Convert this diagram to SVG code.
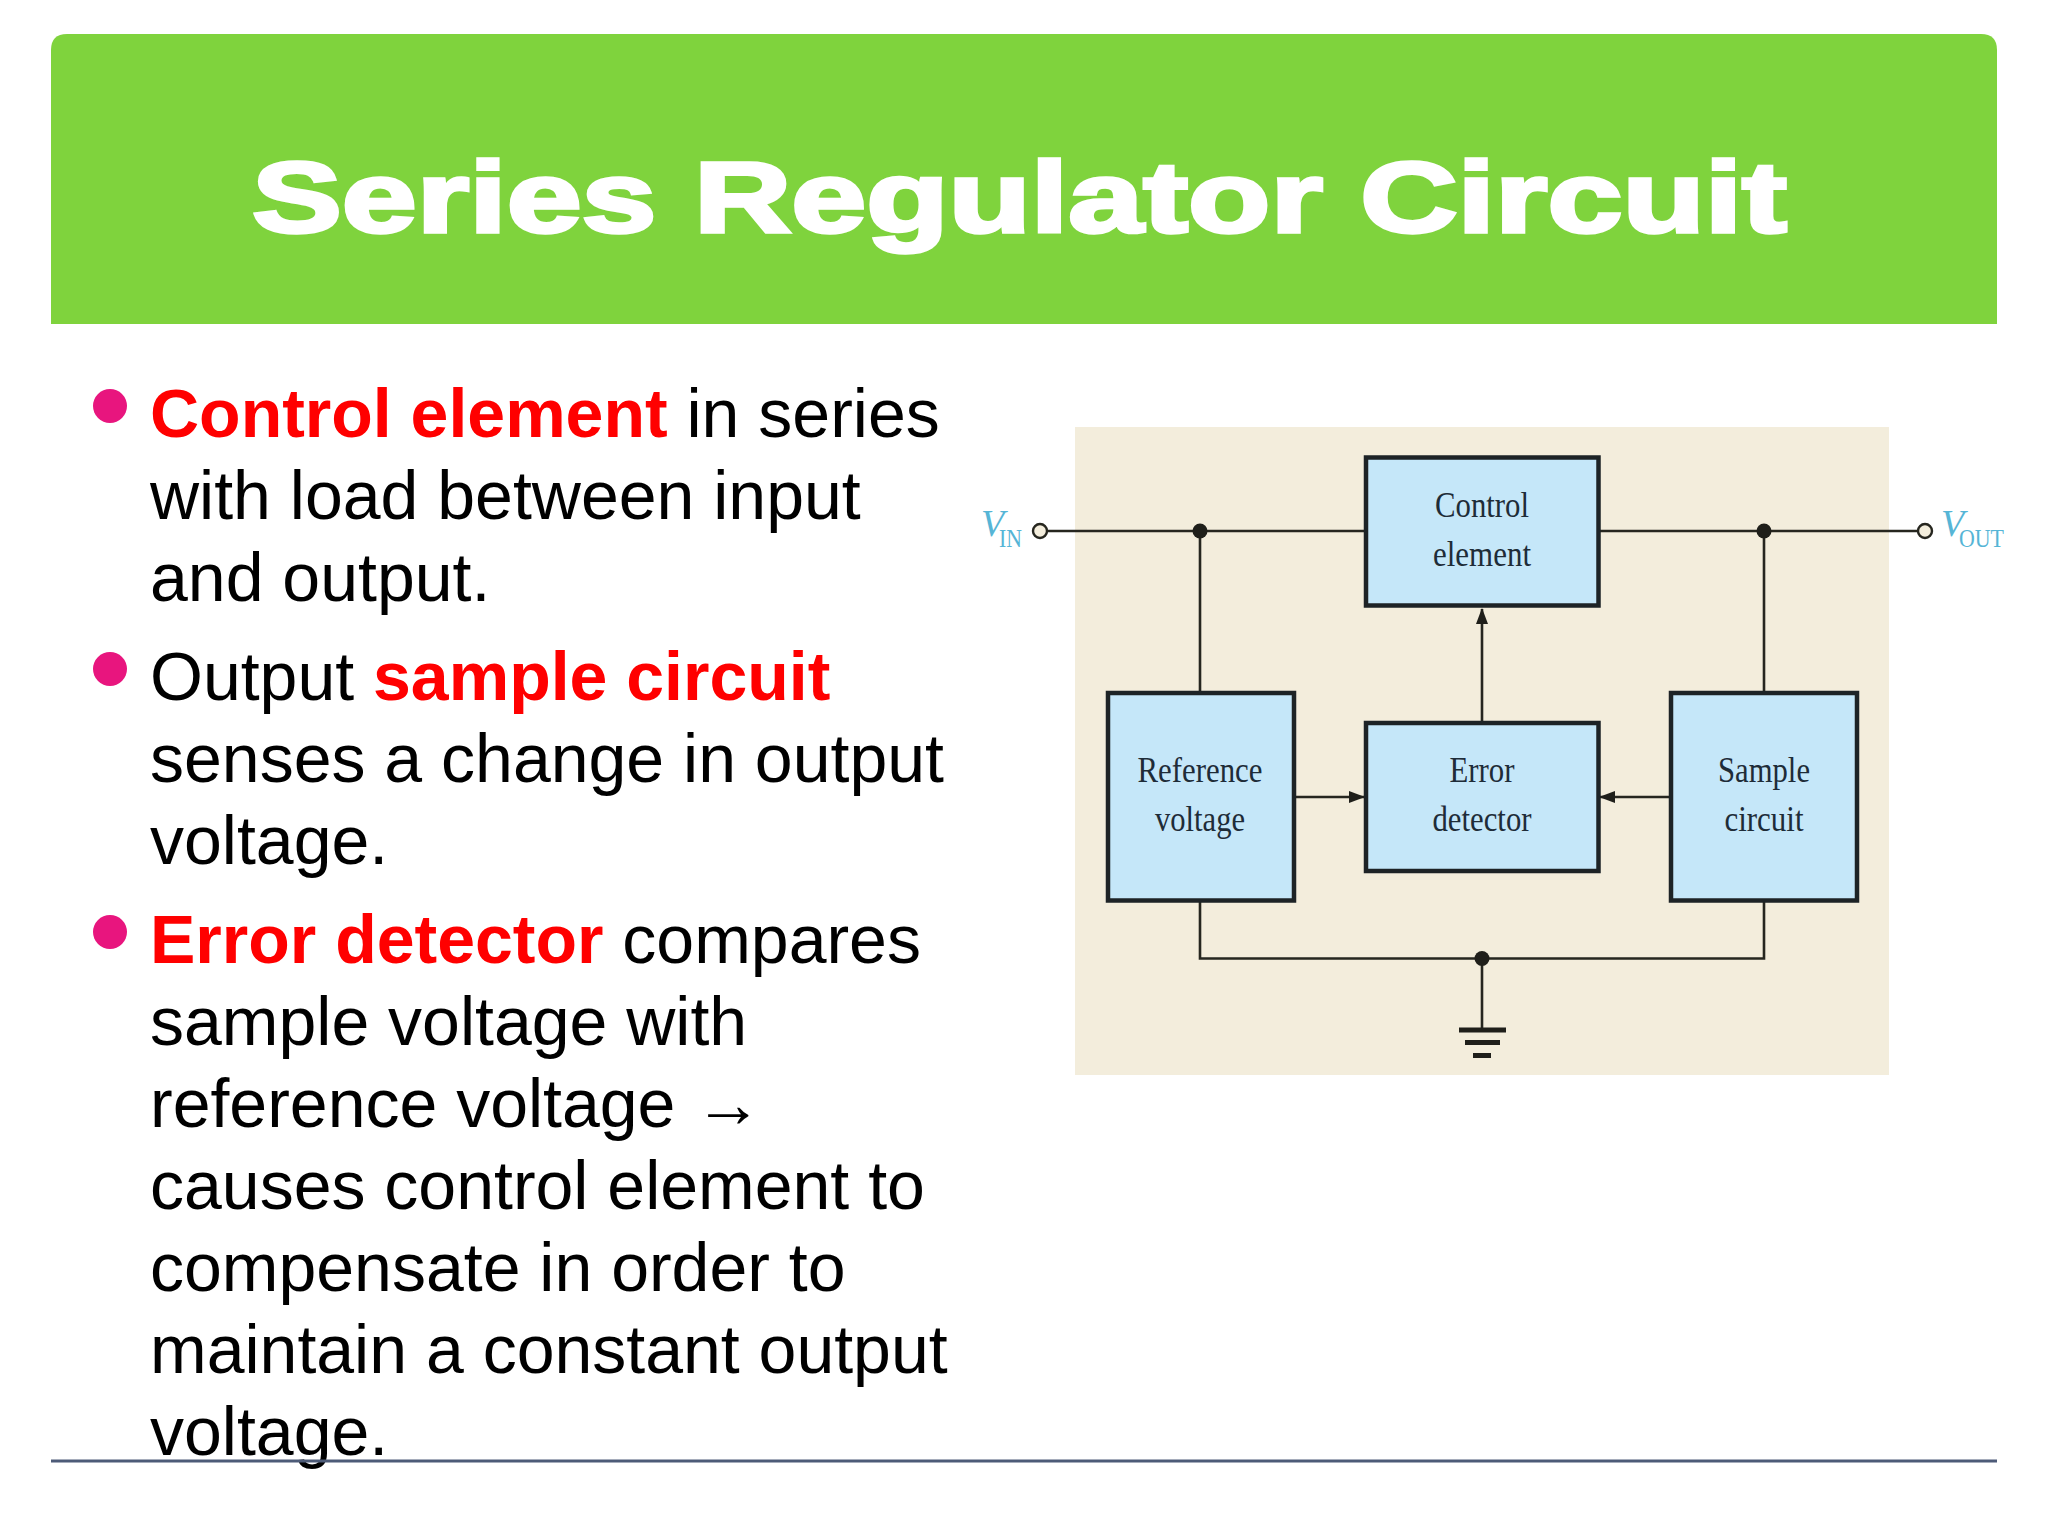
<svg xmlns="http://www.w3.org/2000/svg" width="2048" height="1536" viewBox="0 0 2048 1536">
<style>
.body{font-family:"Liberation Sans",Arial,sans-serif;font-size:68px;fill:#000}
.hot{font-weight:700;fill:#ff0000}
.bullet{fill:#e8157e}
.box{fill:#c5e7f9;stroke:#1d2326;stroke-width:4.5}
.lbl{font-family:"Liberation Serif","Times New Roman",serif;font-size:36px;fill:#1e2c38}
.wire{fill:none;stroke:#26261f;stroke-width:2.6}
.dot{fill:#1f1f1a}
.term{fill:#f4eedd;stroke:#26261f;stroke-width:2.4}
.v{font-family:"Liberation Serif","Times New Roman",serif;font-style:italic;font-size:38px;fill:#56b5d6}
.sub{font-family:"Liberation Serif","Times New Roman",serif;font-size:26px;fill:#56b5d6}
</style>
<defs>
<marker id="ah" markerWidth="16" markerHeight="16" refX="15" refY="6" orient="auto" markerUnits="userSpaceOnUse"><path d="M0 0L16 6L0 12Z" fill="#1f1f1a"/></marker>
</defs>
<rect width="2048" height="1536" fill="#fff"/>
<g id="header">
<path d="M51 324V50Q51 34 67 34H1981Q1997 34 1997 50V324Z" fill="#7fd33d"/>
<text x="252" y="232" font-family="'Liberation Sans',Arial,sans-serif" font-weight="700" font-size="100" fill="#fff" stroke="#fff" stroke-width="3.5" textLength="1535" lengthAdjust="spacingAndGlyphs">Series Regulator Circuit</text>
</g>
<g id="bullets">
<circle class="bullet" cx="110" cy="406" r="17"/>
<circle class="bullet" cx="110" cy="669" r="17"/>
<circle class="bullet" cx="110" cy="932" r="17"/>
<text class="body" x="150" y="437"><tspan class="hot">Control element</tspan> in series</text>
<text class="body" x="150" y="519">with load between input</text>
<text class="body" x="150" y="601">and output.</text>
<text class="body" x="150" y="700">Output <tspan class="hot">sample circuit</tspan></text>
<text class="body" x="150" y="782">senses a change in output</text>
<text class="body" x="150" y="864">voltage.</text>
<text class="body" x="150" y="963"><tspan class="hot">Error detector</tspan> compares</text>
<text class="body" x="150" y="1045">sample voltage with</text>
<text class="body" x="150" y="1127">reference voltage →</text>
<text class="body" x="150" y="1209">causes control element to</text>
<text class="body" x="150" y="1291">compensate in order to</text>
<text class="body" x="150" y="1373">maintain a constant output</text>
<text class="body" x="150" y="1455">voltage.</text>
</g>
<line id="footer-rule" x1="51" y1="1461" x2="1997" y2="1461" stroke="#4d5b78" stroke-width="3"/>
<rect id="panel" x="1075" y="427" width="814" height="648" fill="#f3eddc"/>
<g id="connectors">
<line class="wire" x1="1047" y1="531" x2="1365" y2="531"/>
<line class="wire" x1="1599" y1="531" x2="1918" y2="531"/>
<line class="wire" x1="1200" y1="531" x2="1200" y2="693"/>
<line class="wire" x1="1764" y1="531" x2="1764" y2="693"/>
<path class="wire" d="M1200 901V958.5H1764V901"/>
<line class="wire" x1="1482" y1="958.5" x2="1482" y2="1030"/>
<line class="wire" x1="1482" y1="722" x2="1482" y2="609" marker-end="url(#ah)"/>
<line class="wire" x1="1295" y1="797" x2="1364" y2="797" marker-end="url(#ah)"/>
<line class="wire" x1="1670" y1="797" x2="1600" y2="797" marker-end="url(#ah)"/>
<circle class="dot" cx="1200" cy="531" r="7.5"/>
<circle class="dot" cx="1764" cy="531" r="7.5"/>
<circle class="dot" cx="1482" cy="958.5" r="7.5"/>
</g>
<g id="ground">
<rect class="dot" x="1459" y="1027.5" width="47" height="5"/>
<rect class="dot" x="1465" y="1040" width="35" height="5"/>
<rect class="dot" x="1473" y="1053" width="18" height="5"/>
</g>
<g id="vin">
<circle class="term" cx="1040" cy="531" r="7"/>
<text class="v" x="981" y="536">V</text>
<text class="sub" x="999" y="547" textLength="23" lengthAdjust="spacingAndGlyphs">IN</text>
</g>
<g id="vout">
<circle class="term" cx="1925" cy="531" r="7"/>
<text class="v" x="1941" y="536">V</text>
<text class="sub" x="1959" y="547" textLength="45" lengthAdjust="spacingAndGlyphs">OUT</text>
</g>
<g id="control-element">
<rect class="box" x="1366" y="457.5" width="232.500" height="148"/>
<text class="lbl" x="1482" y="517" text-anchor="middle" textLength="94" lengthAdjust="spacingAndGlyphs">Control</text>
<text class="lbl" x="1482" y="566" text-anchor="middle" textLength="98" lengthAdjust="spacingAndGlyphs">element</text>
</g>
<g id="error-detector">
<rect class="box" x="1366" y="723" width="232.500" height="148"/>
<text class="lbl" x="1482" y="782" text-anchor="middle" textLength="65" lengthAdjust="spacingAndGlyphs">Error</text>
<text class="lbl" x="1482" y="831" text-anchor="middle" textLength="99" lengthAdjust="spacingAndGlyphs">detector</text>
</g>
<g id="reference-voltage">
<rect class="box" x="1108" y="693" width="186" height="207.500"/>
<text class="lbl" x="1200" y="782" text-anchor="middle" textLength="125" lengthAdjust="spacingAndGlyphs">Reference</text>
<text class="lbl" x="1200" y="831" text-anchor="middle" textLength="90" lengthAdjust="spacingAndGlyphs">voltage</text>
</g>
<g id="sample-circuit">
<rect class="box" x="1671" y="693" width="186" height="207.500"/>
<text class="lbl" x="1764" y="782" text-anchor="middle" textLength="92" lengthAdjust="spacingAndGlyphs">Sample</text>
<text class="lbl" x="1764" y="831" text-anchor="middle" textLength="79" lengthAdjust="spacingAndGlyphs">circuit</text>
</g>
</svg>
